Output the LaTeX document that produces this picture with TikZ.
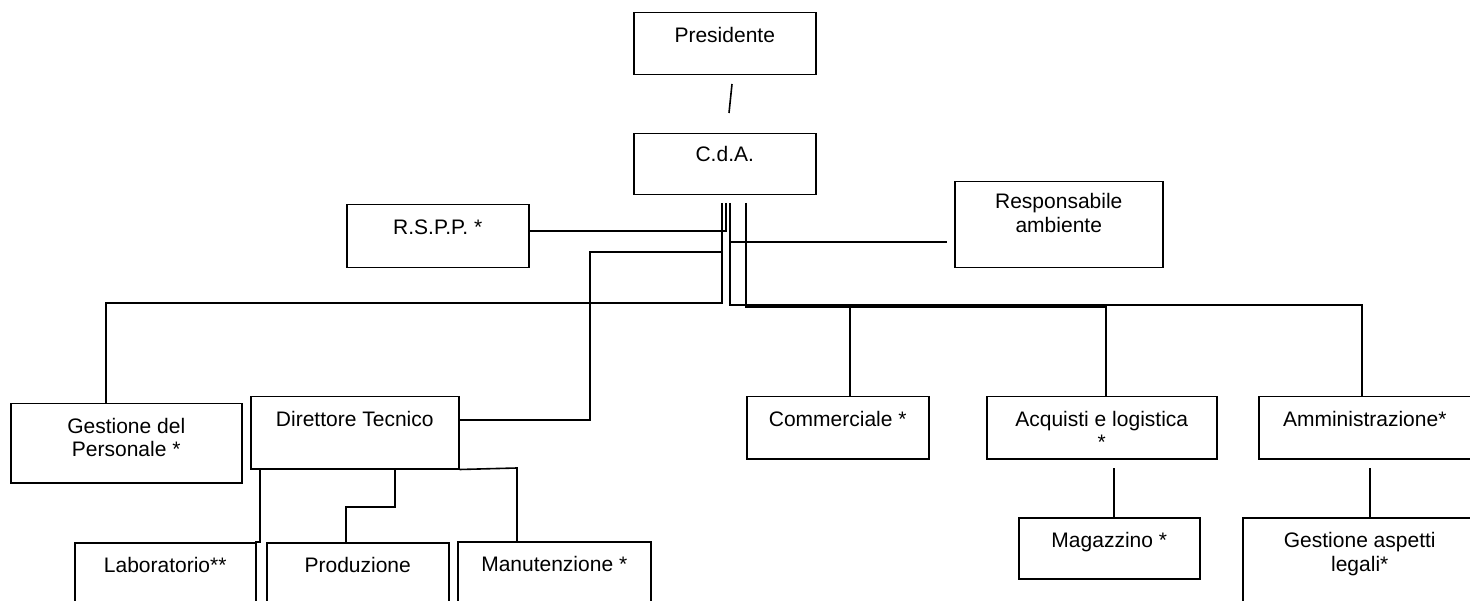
\documentclass[tikz,border=0pt]{standalone}
\usepackage{fontspec}
\setmainfont{Liberation Sans}
\tikzset{
  boxst/.style={draw, rectangle, line width=1.5pt, inner sep=0pt},
  txt/.style={inner sep=0pt, font=\fontsize{21}{23.5}\selectfont},
  conn/.style={line width=1.6pt},
}
\newcommand\orgbox[7]{%
  \node[boxst, anchor=north west, minimum width={(#4-#2)*1pt}, minimum height={(#5-#3)*1pt}] (#1) at (#2,#3) {};
  \node[txt, anchor=base] (#1t) at ([yshift=-#6pt]#1.north) {\begin{tabular}[t]{@{}c@{}}#7\end{tabular}};
}
\begin{document}
\begin{tikzpicture}[x=1pt,y=-1pt]
\useasboundingbox (0,0) rectangle (1470,601);
\clip (0,0) rectangle (1470,601);
\fill[white] (0,0) rectangle (1470,601);
% boxes
\orgbox{pres}{633}{12}{815}{74}{30.5}{Presidente}
\orgbox{cda}{633}{133}{815}{194}{29}{C.d.A.}
\orgbox{rspp}{346}{204}{528}{267}{30.5}{R.S.P.P. *}
\orgbox{amb}{954}{181}{1162}{267}{28}{Responsabile\\ambiente}
\orgbox{gp}{10}{403}{241}{482}{30.5}{Gestione del\\Personale *}
\orgbox{dt}{250}{396}{458}{468}{30.5}{Direttore Tecnico}
\orgbox{com}{746}{396}{928}{458}{30.5}{Commerciale *}
\orgbox{acq}{986}{396}{1216}{458}{30.5}{Acquisti e logistica\\\relax *}
\orgbox{amm}{1258}{396}{1470}{458}{30.5}{Amministrazione*}
\orgbox{lab}{74}{542}{255}{630}{30.5}{Laboratorio**}
\orgbox{prod}{266}{542}{448}{630}{30.5}{Produzione}
\orgbox{man}{457}{541}{650}{630}{30.5}{Manutenzione *}
\orgbox{mag}{1018}{517}{1199}{578}{30.5}{Magazzino *}
\orgbox{leg}{1242}{517}{1476}{630}{30.5}{Gestione aspetti\\legali*}
% slash between Presidente and C.d.A.
\coordinate (s1) at (732,84);
\coordinate (s2) at (729,113);
\draw[conn] (s1) -- (s2);
% starts below C.d.A.
\coordinate (b1) at (722,203);
\coordinate (b2) at (726,203);
\coordinate (b3) at (730,203);
\coordinate (b4) at (746,203);
% Gestione del Personale
\draw[conn] (b1) -- (722,303) -- (106,303) -- (106,403);
% Direttore Tecnico
\draw[conn] (722,252) -- (590,252) -- (590,420) -- (458,420);
% R.S.P.P.
\draw[conn] (b2) -- (726,231) -- (528,231);
% Responsabile ambiente
\draw[conn] (730,242) -- (947,242);
% Amministrazione
\draw[conn] (b3) -- (730,305) -- (1362,305) -- (1362,396);
% Acquisti
\draw[conn] (b4) -- (746,307) -- (1106,307) -- (1106,396);
% Commerciale
\draw[conn] (850,307) -- (850,396);
% Magazzino
\draw[conn] (1114,468) -- (1114,517);
% Gestione aspetti legali
\draw[conn] (1370,468) -- (1370,517);
% Laboratorio
\draw[conn] (260,468) -- (260,542) -- (255,542);
% Produzione
\draw[conn] (395,468) -- (395,507) -- (346,507) -- (346,542);
% Manutenzione
\draw[conn] (dt.south east) -- (517,468) -- (517,541);
\end{tikzpicture}
\end{document}
